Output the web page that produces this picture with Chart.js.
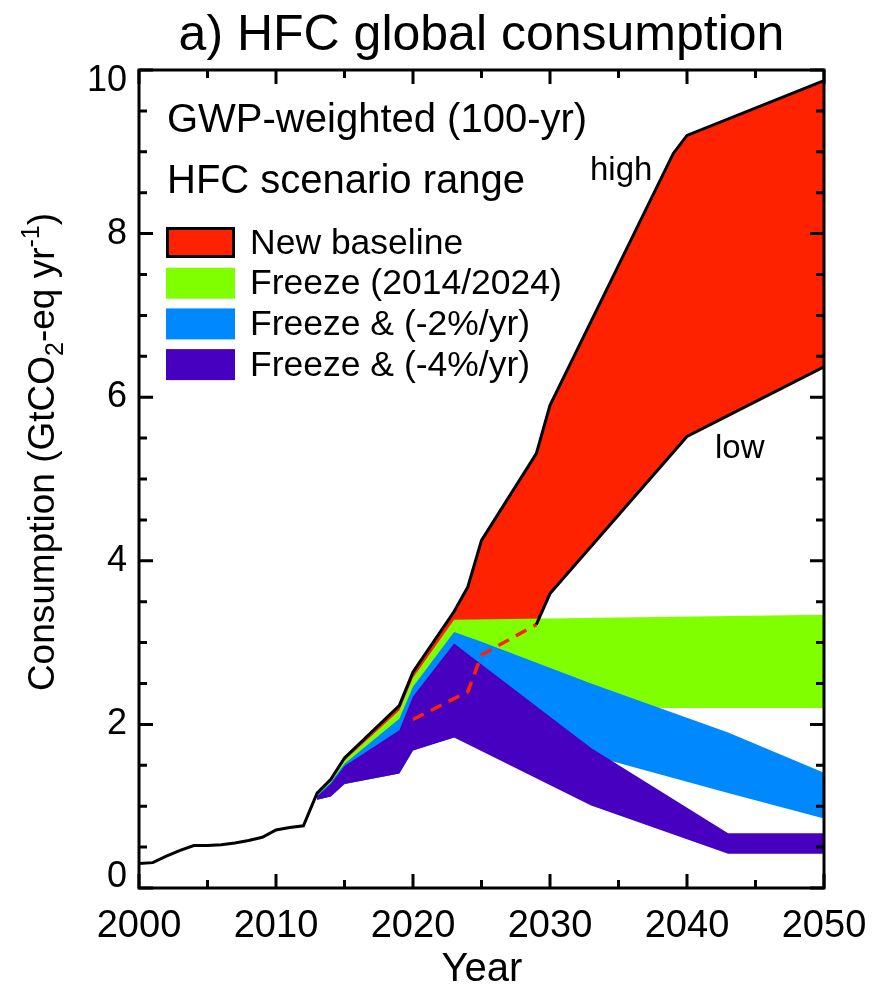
<!DOCTYPE html>
<html>
<head>
<meta charset="utf-8">
<script src="https://cdn.jsdelivr.net/npm/chart.js@4"></script>
<style>
  body { margin: 0; background: #fff; }
  #wrap { width: 872px; height: 986px; position: relative; }
</style>
</head>
<body>
<div id="wrap"><canvas id="hfcChart"></canvas></div>
<script>
// --- data (GtCO2-eq per year) ---
const histYears = [2000, 2001, 2002, 2003, 2004, 2005, 2006, 2007, 2008, 2009, 2010, 2011, 2012];
const histValues = [0.30, 0.31, 0.39, 0.46, 0.52, 0.52, 0.53, 0.55, 0.58, 0.62, 0.71, 0.74, 0.76];

// new baseline, upper ("high") and lower ("low") edge
const highYears = [2013, 2014, 2015, 2019, 2020, 2023, 2024, 2025, 2029, 2030, 2039, 2040, 2050];
const highValues = [1.16, 1.33, 1.59, 2.23, 2.64, 3.38, 3.68, 4.25, 5.31, 5.90, 8.98, 9.20, 9.87];
const lowYears = [2013, 2015, 2019, 2020, 2024, 2025, 2029, 2030, 2040, 2050];
const lowValues = [1.16, 1.50, 1.80, 2.06, 2.40, 2.85, 3.22, 3.60, 5.52, 6.37];

// freeze (2014/2024)
const freezeYears = [2013, 2014, 2015, 2019, 2020, 2023, 2050];
const freezeUpper = [1.15, 1.31, 1.56, 2.17, 2.57, 3.28, 3.34];
const freezeLower = [1.08, 1.12, 1.27, 1.40, 1.68, 2.20, 2.20];

// freeze & -2%/yr
const minus2Years = [2013, 2014, 2015, 2019, 2020, 2023, 2025, 2033, 2043, 2050];
const minus2Upper = [1.13, 1.29, 1.52, 2.07, 2.46, 3.13, 3.01, 2.50, 1.90, 1.41];
const minus2Lower = [1.08, 1.12, 1.27, 1.40, 1.68, 1.84, 1.80, 1.62, 1.16, 0.85];

// freeze & -4%/yr
const minus4Years = [2013, 2014, 2015, 2019, 2020, 2023, 2033, 2043, 2050];
const minus4Upper = [1.12, 1.27, 1.49, 1.93, 2.34, 2.99, 1.71, 0.67, 0.67];
const minus4Lower = [1.08, 1.12, 1.27, 1.40, 1.68, 1.84, 1.01, 0.42, 0.42];

const xTicks = [2000, 2010, 2020, 2030, 2040, 2050];
const yTicks = [0, 2, 4, 6, 8, 10];

const FONT = '"Liberation Sans", Arial, Helvetica, sans-serif';
const RED = 'rgb(255,34,0)';
const GREEN = 'rgb(128,255,0)';
const BLUE = 'rgb(0,136,255)';
const PURPLE = 'rgb(72,0,192)';

function toPoints(years, values) {
    return years.map((yr, i) => ({ x: yr, y: values[i] }));
}

function band(years, values, fillTarget, color, order, label) {
    return {
        label: label,
        data: toPoints(years, values),
        borderWidth: 0,
        borderColor: 'rgba(0,0,0,0)',
        backgroundColor: color || 'rgba(0,0,0,0)',
        fill: fillTarget === null ? false : fillTarget,
        pointRadius: 0,
        order: order
    };
}

const blackYears = histYears.concat(highYears);
const blackValues = histValues.concat(highValues);
const dashIdx = lowYears.map((y, i) => i).filter(i => lowYears[i] >= 2020 && lowYears[i] <= 2029);
const lowLineIdx = lowYears.map((y, i) => i).filter(i => lowYears[i] >= 2029);

const datasets = [
    band(highYears, highValues, 1, RED, 10, 'New baseline'),
    band(lowYears, lowValues, null, null, 10),
    band(freezeYears, freezeUpper, 3, GREEN, 9, 'Freeze (2014/2024)'),
    band(freezeYears, freezeLower, null, null, 9),
    band(minus2Years, minus2Upper, 5, BLUE, 8, 'Freeze & (-2%/yr)'),
    band(minus2Years, minus2Lower, null, null, 8),
    band(minus4Years, minus4Upper, 7, PURPLE, 7, 'Freeze & (-4%/yr)'),
    band(minus4Years, minus4Lower, null, null, 7),
    {
        data: toPoints(blackYears, blackValues),
        borderColor: '#000', borderWidth: 3, pointRadius: 0, fill: false, order: 1
    },
    {
        data: dashIdx.map(i => ({ x: lowYears[i], y: lowValues[i] })),
        borderColor: RED, borderWidth: 3.5, borderDash: [12, 8], pointRadius: 0, fill: false, order: 2
    },
    {
        data: lowLineIdx.map(i => ({ x: lowYears[i], y: lowValues[i] })),
        borderColor: '#000', borderWidth: 3, pointRadius: 0, fill: false, order: 1
    }
];

// frame with inward ticks, titles, legend and notes
const decorPlugin = {
    id: 'decor',
    beforeDraw(chart) {
        // end labels of the y axis sit inside the frame, like the original
        const items = chart.scales.y.getLabelItems(chart.chartArea);
        items.forEach(it => {
            if (it.label === '0') it.options.translation[1] -= 11;
            if (it.label === '10') it.options.translation[1] += 11;
        });
    },
    afterDraw(chart) {
        const ctx = chart.ctx;
        const area = chart.chartArea;
        const xs = chart.scales.x;
        const ys = chart.scales.y;
        ctx.save();
        ctx.strokeStyle = '#000';
        ctx.lineWidth = 3;
        ctx.strokeRect(area.left, area.top, area.right - area.left, area.bottom - area.top);

        for (let yr = 2000; yr <= 2050; yr += 5) {
            const px = xs.getPixelForValue(yr);
            const len = yr % 10 === 0 ? 14 : 8;
            ctx.beginPath();
            ctx.moveTo(px, area.bottom); ctx.lineTo(px, area.bottom - len);
            ctx.moveTo(px, area.top); ctx.lineTo(px, area.top + len);
            ctx.stroke();
        }
        for (let v = 0; v <= 10; v += 0.5) {
            const py = ys.getPixelForValue(v);
            const len = v % 2 === 0 ? 14 : 8;
            ctx.beginPath();
            ctx.moveTo(area.left, py); ctx.lineTo(area.left + len, py);
            ctx.moveTo(area.right, py); ctx.lineTo(area.right - len, py);
            ctx.stroke();
        }

        ctx.fillStyle = '#000';
        ctx.textBaseline = 'alphabetic';
        // title
        ctx.font = '50px ' + FONT;
        ctx.textAlign = 'center';
        ctx.fillText('a) HFC global consumption', (area.left + area.right) / 2, 50);
        // x title
        ctx.font = '40px ' + FONT;
        ctx.fillText('Year', 482, 981);

        // y title with sub/superscript
        const parts = [
            { t: 'Consumption (GtCO', s: 37, dy: 0 },
            { t: '2', s: 25, dy: 9 },
            { t: '-eq yr', s: 37, dy: 0 },
            { t: '-1', s: 25, dy: -15 },
            { t: ')', s: 37, dy: 0 }
        ];
        let total = 0;
        parts.forEach(p => { ctx.font = p.s + 'px ' + FONT; p.w = ctx.measureText(p.t).width; total += p.w; });
        ctx.translate(54, 452);
        ctx.rotate(-Math.PI / 2);
        ctx.textAlign = 'left';
        let cx = -total / 2;
        parts.forEach(p => {
            ctx.font = p.s + 'px ' + FONT;
            ctx.fillText(p.t, cx, p.dy);
            cx += p.w;
        });
        ctx.setTransform(1, 0, 0, 1, 0, 0);

        // notes
        ctx.textAlign = 'left';
        ctx.font = '40px ' + FONT;
        ctx.fillText('GWP-weighted (100-yr)', 167, 132);
        ctx.fillText('HFC scenario range', 167, 193);
        ctx.font = '33px ' + FONT;
        ctx.fillText('high', 590, 180);
        ctx.fillText('low', 715, 458);

        // legend
        const entries = chart.data.datasets.filter(d => d.label);
        ctx.font = '35.5px ' + FONT;
        ctx.textBaseline = 'middle';
        entries.forEach((d, i) => {
            const top = 227 + i * 40.7;
            ctx.fillStyle = d.backgroundColor;
            ctx.fillRect(166, top, 69, 31);
            if (i === 0) {
                ctx.lineWidth = 3;
                ctx.strokeRect(167.5, top + 1.5, 66, 28);
            }
            ctx.fillStyle = '#000';
            ctx.fillText(d.label, 250, top + 17);
        });
        ctx.restore();
    }
};

new Chart(document.getElementById('hfcChart'), {
    type: 'line',
    data: { datasets: datasets },
    options: {
        responsive: true,
        maintainAspectRatio: false,
        animation: false,
        layout: { padding: { left: 0, right: 48, top: 70, bottom: 0 } },
        plugins: {
            legend: { display: false },
            tooltip: { enabled: false },
            filler: { propagate: false }
        },
        elements: { line: { tension: 0 } },
        scales: {
            x: {
                type: 'linear',
                min: 2000, max: 2050,
                afterBuildTicks: s => { s.ticks = xTicks.map(v => ({ value: v })); },
                afterFit: s => { s.height = 98; s.paddingLeft = 0; s.paddingRight = 0; },
                grid: { display: false, drawTicks: false },
                border: { display: false },
                ticks: {
                    color: '#000', font: { family: FONT, size: 38 }, padding: 16, maxRotation: 0,
                    callback: v => String(v)
                }
            },
            y: {
                min: 0, max: 10,
                afterBuildTicks: s => { s.ticks = yTicks.map(v => ({ value: v })); },
                afterFit: s => { s.width = 139; s.paddingTop = 0; s.paddingBottom = 0; },
                grid: { display: false, drawTicks: false },
                border: { display: false },
                ticks: { color: '#000', font: { family: FONT, size: 36 }, padding: 12 }
            }
        }
    },
    plugins: [decorPlugin]
});
</script>
</body>
</html>
